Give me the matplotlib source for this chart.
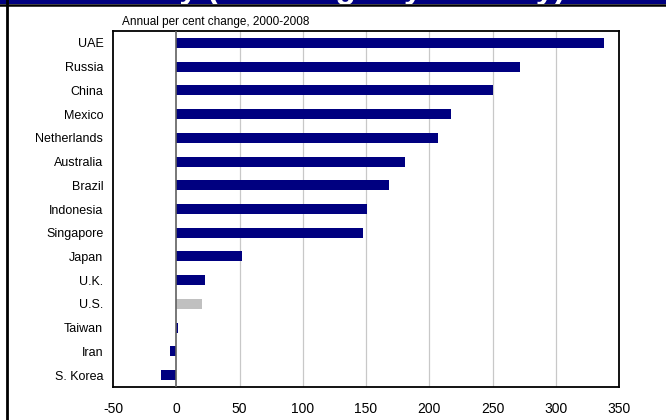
import numpy as np
import matplotlib
matplotlib.use('Agg')
from matplotlib import pylab as plt

countries = ['UAE', 'Russia', 'China', 'Mexico', 'Netherlands', 'Australia', 'Brazil',
             'Indonesia', 'Singapore', 'Japan', 'U.K.', 'U.S.', 'Taiwan', 'Iran', 'S. Korea']
change = [338, 272, 250, 217, 207, 181, 168, 151, 148, 52, 23, 20, 1.5, -5, -12]
xticks = [-50, 0, 50, 100, 150, 200, 250, 300, 350]

navy = '#000080'
plt.rcParams['font.family'] = ['Liberation Sans', 'DejaVu Sans']

fig = plt.figure(figsize=(6.66, 4.2), dpi=100)
W, H = 666., 420.
ax = fig.add_axes([113/W, 1-387/H, (619-113)/W, (387-31)/H])

ypos = np.arange(len(countries))
colors = ['#c0c0c0' if c == 'U.S.' else navy for c in countries]
ax.barh(ypos, change, height=0.42, color=colors, zorder=3)
ax.set_ylim(len(countries)-0.5, -0.5)
ax.set_xlim(-50, 350)
ax.set_yticks(ypos)
ax.set_yticklabels(countries, fontsize=9)
ax.set_xticks(xticks)
ax.set_xticklabels([str(t) for t in xticks], fontsize=10)
ax.tick_params(axis='both', length=0)
ax.tick_params(axis='y', pad=7)
ax.tick_params(axis='x', pad=11)
for t in xticks[2:-1]:
    ax.axvline(t, color='#c8c8c8', linewidth=0.9, zorder=1)
ax.axvline(0, color='#606060', linewidth=1.2, zorder=4)
for s in ax.spines.values():
    s.set_linewidth(1.3)
    s.set_color('black')

fig.text(122/W, 1-25/H, 'Annual per cent change, 2000-2008', fontsize=8.5, va='baseline')

# header band: heading sits above the page, only its lowest strokes show
hb = fig.add_axes([0, 1-4/H, 1, 4/H], facecolor=navy)
hb.set_xticks([])
hb.set_yticks([])
for s in hb.spines.values():
    s.set_visible(False)
hb.text(77/W, 1.5, 'Activity (% change by country)', fontsize=24, fontweight='bold',
        color='white', ha='left', va='baseline', transform=hb.transAxes, clip_on=True)

fig.add_artist(plt.Line2D([0, 1], [1-5/H, 1-5/H], color='black', linewidth=1.8,
                          transform=fig.transFigure))
fig.add_artist(plt.Line2D([7/W, 7/W], [0, 1], color='black', linewidth=2,
                          transform=fig.transFigure))

fig.savefig('out.png', dpi=100)
